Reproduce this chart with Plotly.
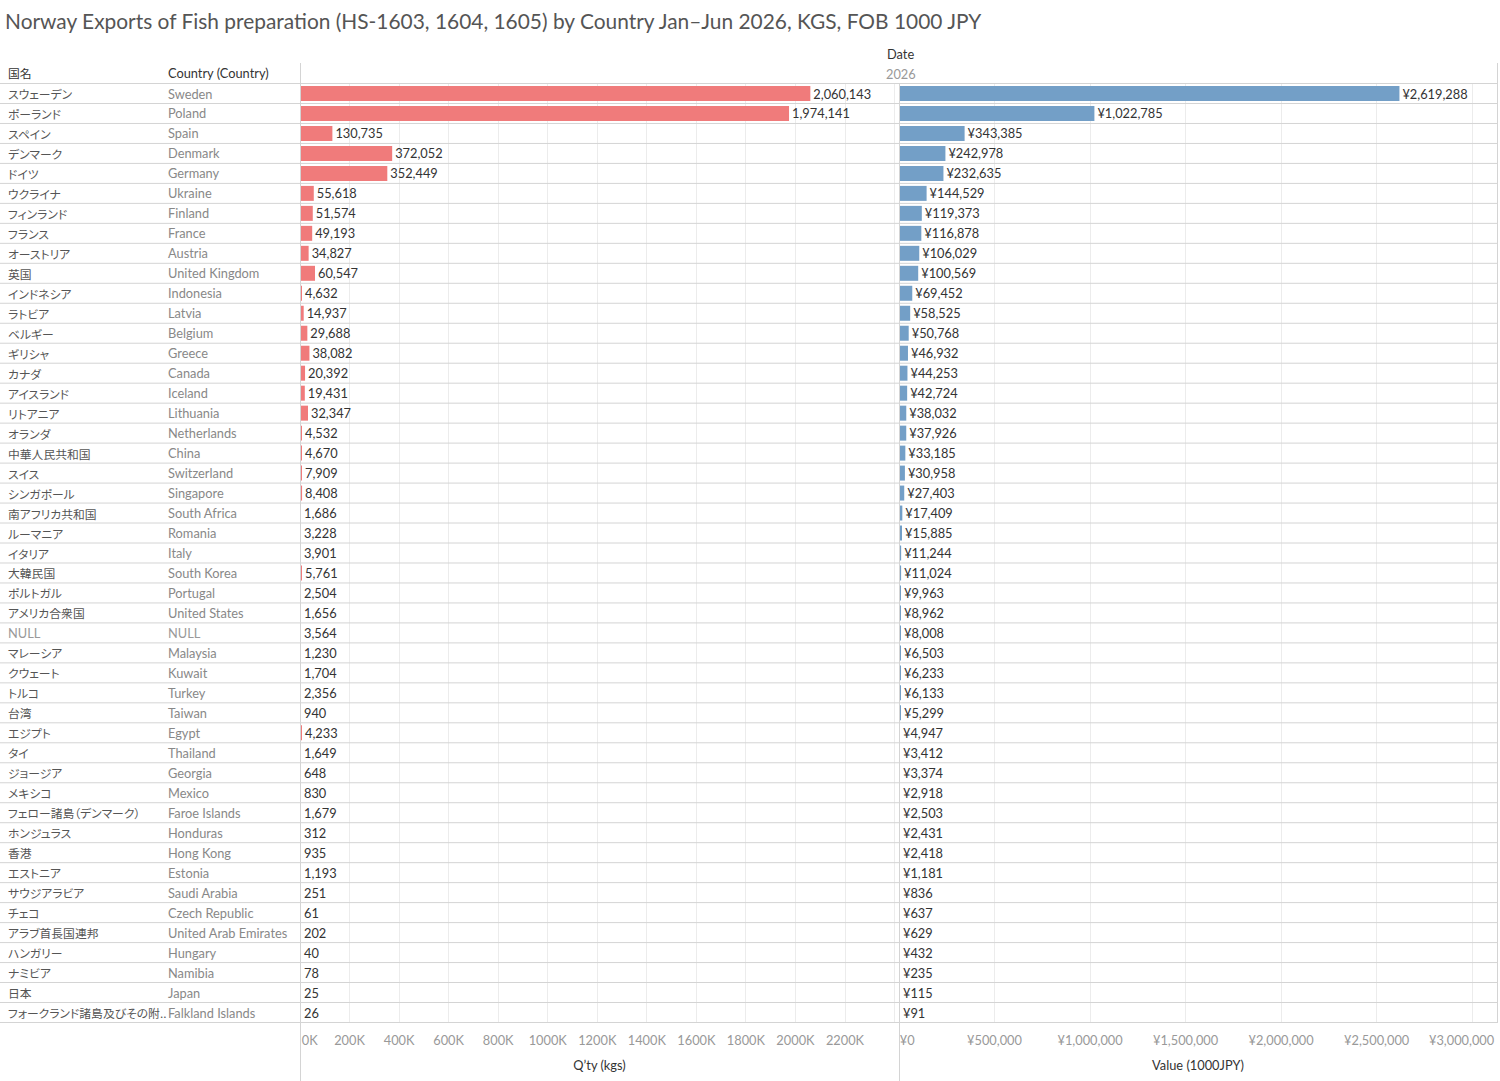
import plotly.graph_objects as go

title_text = "Norway Exports of Fish preparation (HS-1603, 1604, 1605) by Country Jan\u2013Jun 2026, KGS, FOB 1000 JPY"

names_ja = ["スウェーデン", "ポーランド", "スペイン", "デンマーク", "ドイツ", "ウクライナ", "フィンランド",
            "フランス", "オーストリア", "英国", "インドネシア", "ラトビア", "ベルギー", "ギリシャ", "カナダ",
            "アイスランド", "リトアニア", "オランダ", "中華人民共和国", "スイス", "シンガポール",
            "南アフリカ共和国", "ルーマニア", "イタリア", "大韓民国", "ポルトガル", "アメリカ合衆国", "NULL",
            "マレーシア", "クウェート", "トルコ", "台湾", "エジプト", "タイ", "ジョージア", "メキシコ",
            "フェロー諸島（デンマーク）", "ホンジュラス", "香港", "エストニア", "サウジアラビア", "チェコ",
            "アラブ首長国連邦", "ハンガリー", "ナミビア", "日本", "フォークランド諸島及びその附.."]

names_en = ["Sweden", "Poland", "Spain", "Denmark", "Germany", "Ukraine", "Finland", "France", "Austria",
            "United Kingdom", "Indonesia", "Latvia", "Belgium", "Greece", "Canada", "Iceland", "Lithuania",
            "Netherlands", "China", "Switzerland", "Singapore", "South Africa", "Romania", "Italy",
            "South Korea", "Portugal", "United States", "NULL", "Malaysia", "Kuwait", "Turkey", "Taiwan",
            "Egypt", "Thailand", "Georgia", "Mexico", "Faroe Islands", "Honduras", "Hong Kong", "Estonia",
            "Saudi Arabia", "Czech Republic", "United Arab Emirates", "Hungary", "Namibia", "Japan",
            "Falkland Islands"]

qty_kgs = [2060143, 1974141, 130735, 372052, 352449, 55618, 51574, 49193, 34827, 60547, 4632, 14937,
           29688, 38082, 20392, 19431, 32347, 4532, 4670, 7909, 8408, 1686, 3228, 3901, 5761, 2504, 1656,
           3564, 1230, 1704, 2356, 940, 4233, 1649, 648, 830, 1679, 312, 935, 1193, 251, 61, 202, 40, 78,
           25, 26]

value_jpy = [2619288, 1022785, 343385, 242978, 232635, 144529, 119373, 116878, 106029, 100569, 69452,
             58525, 50768, 46932, 44253, 42724, 38032, 37926, 33185, 30958, 27403, 17409, 15885, 11244,
             11024, 9963, 8962, 8008, 6503, 6233, 6133, 5299, 4947, 3412, 3374, 2918, 2503, 2431, 2418,
             1181, 836, 637, 629, 432, 235, 115, 91]

qty_ticks = [0, 200000, 400000, 600000, 800000, 1000000, 1200000, 1400000, 1600000, 1800000, 2000000,
             2200000, 2400000]
qty_tick_labels = ["\u00a0\u00a0\u00a0\u00a0\u00a0\u00a00K", "200K", "400K", "600K", "800K", "1000K",
                   "1200K", "1400K", "1600K", "1800K", "2000K", "2200K", ""]
val_ticks = [0, 500000, 1000000, 1500000, 2000000, 2500000, 3000000]
val_tick_labels = ["\u00a0\u00a0\u00a0\u00a0\u00a0¥0", "¥500,000", "¥1,000,000", "¥1,500,000",
                   "¥2,000,000", "¥2,500,000", ""]
val_last_tick_label = "¥3,000,000"

W, H = 1500, 1081
FONT = "Lato, 'Noto Sans CJK JP', sans-serif"
JFONT = "'Noto Sans CJK JP', sans-serif"
RED = "#f07b7b"
BLUE = "#739fc7"
LINE = "#d4d4d4"
FS = 12.8
JFS = 11.8


def px(x):
    return x / W


def py(y):
    return 1 - y / H


row_top, row_bot = 83, 1023
n = len(names_en)

fig = go.Figure()
fig.add_trace(go.Bar(
    y=names_en, x=qty_kgs, orientation="h", xaxis="x", yaxis="y",
    marker=dict(color=RED, line=dict(width=0)),
    texttemplate="%{x:,}", textposition="outside", constraintext="none", cliponaxis=False,
    textfont=dict(family=FONT, size=FS, color="#333333"), showlegend=False,
))
fig.add_trace(go.Bar(
    y=names_en, x=value_jpy, orientation="h", xaxis="x2", yaxis="y",
    marker=dict(color=BLUE, line=dict(width=0)),
    texttemplate="¥%{x:,}", textposition="outside", constraintext="none", cliponaxis=False,
    textfont=dict(family=FONT, size=FS, color="#333333"), showlegend=False,
))

axis_common = dict(
    showgrid=True, gridcolor="#ececec", gridwidth=1, zeroline=False, showline=False,
    ticks="", tickfont=dict(family=FONT, size=FS, color="#999999"), ticklabelstandoff=8,
    ticklabeloverflow="allow", fixedrange=True, automargin=False,
)

fig.update_layout(
    width=W, height=H, margin=dict(l=0, r=0, t=0, b=0, pad=0, autoexpand=False),
    paper_bgcolor="white", plot_bgcolor="white",
    font=dict(family=FONT, size=FS, color="#555555"),
    bargap=0.25,
    xaxis=dict(domain=[px(300), px(899)], range=[0, 2418000], tickvals=qty_ticks,
               ticktext=qty_tick_labels, anchor="y",
               title=dict(text="Q\u2019ty (kgs)", standoff=14,
                          font=dict(family=FONT, size=FS, color="#333333")),
               **axis_common),
    xaxis2=dict(domain=[px(899), px(1497)], range=[0, 3130000], tickvals=val_ticks,
                ticktext=val_tick_labels, anchor="y",
                title=dict(text="Value (1000JPY)", standoff=14,
                           font=dict(family=FONT, size=FS, color="#333333")),
                **axis_common),
    yaxis=dict(domain=[py(row_bot), py(row_top)], type="category", autorange="reversed",
               showticklabels=False, showgrid=False, zeroline=False, showline=False, ticks="",
               fixedrange=True, automargin=False),
)


def label(text, x, y, size, color, family=FONT, xref="paper", yref="paper", **kw):
    return dict(text=text, x=x, y=y, xref=xref, yref=yref, xanchor=kw.pop("xanchor", "left"),
                yanchor="middle", align=kw.pop("align", "left"), showarrow=False,
                font=dict(family=family, size=size, color=color), **kw)


annotations = [
    label(title_text, px(3), py(21), 20.9, "#555555"),
    label("国名", px(6), py(73), JFS, "#333333", family=JFONT),
    label("Country (Country)", px(166), py(73), FS, "#333333"),
    label("Date", px(885), py(54), FS, "#333333"),
    label("2026", px(884), py(74), FS, "#999999"),
    # last value-axis tick label, kept inside the panel like the reference
    label(val_last_tick_label, val_ticks[-1], py(1040), FS, "#999999", xref="x2",
          xanchor="right", align="right", xshift=25),
]
for ja, en in zip(names_ja, names_en):
    is_null = en == "NULL"
    annotations.append(label(ja, px(6), en, FS if is_null else JFS,
                             "#999999" if is_null else "#555555",
                             family=FONT if is_null else JFONT, yref="y"))
    annotations.append(label(en, px(166), en, FS, "#999999" if is_null else "#888888", yref="y"))
fig.update_layout(annotations=annotations)

shapes = []
for k in range(n + 1):
    shapes.append(dict(type="line", xref="paper", yref="y", x0=0, x1=px(1497),
                       y0=k - 0.5, y1=k - 0.5, line=dict(color=LINE, width=1), layer="above"))
shapes.append(dict(type="line", xref="paper", yref="paper", x0=px(300.5), x1=px(300.5),
                   y0=py(63), y1=0, line=dict(color=LINE, width=1)))
shapes.append(dict(type="line", xref="paper", yref="paper", x0=px(899.5), x1=px(899.5),
                   y0=py(row_top), y1=0, line=dict(color=LINE, width=1)))
shapes.append(dict(type="line", xref="paper", yref="paper", x0=px(1497.5), x1=px(1497.5),
                   y0=py(63), y1=py(row_bot), line=dict(color=LINE, width=1)))
fig.update_layout(shapes=shapes)

# Proportional kana widths, like the reference's Japanese UI font.
post = (
    "document.body.style.margin='0px';"
    "var st=document.createElement('style');"
    "st.textContent='text{font-feature-settings:\"palt\" 1;}';"
    "document.head.appendChild(st);"
)
fig.write_html("out.html", config={"displayModeBar": False}, post_script=post)
